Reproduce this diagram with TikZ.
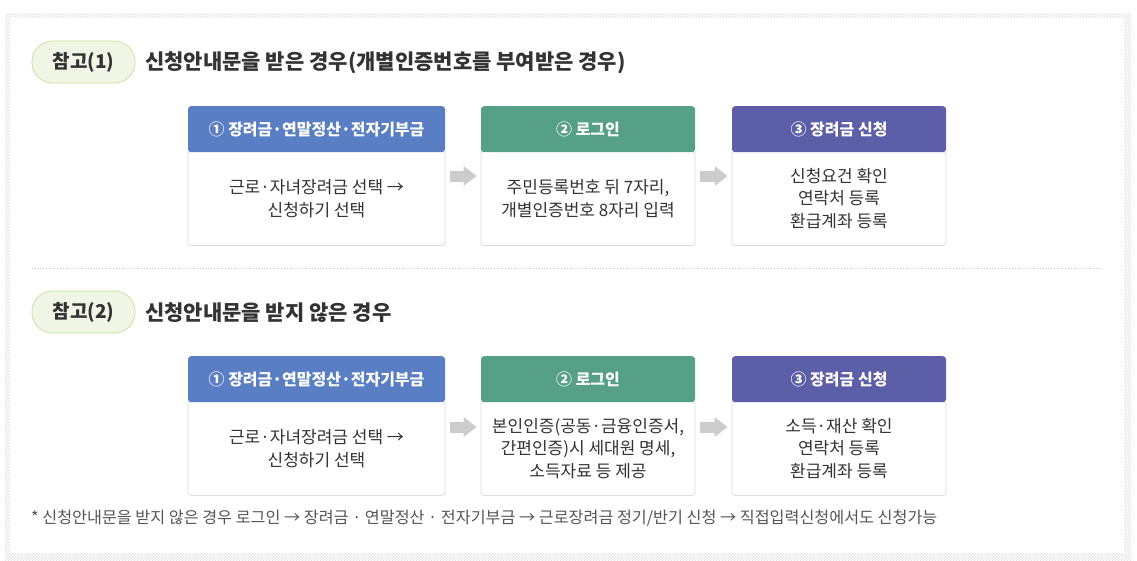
\documentclass[tikz,border=0pt]{standalone}
\usepackage{fontspec}
\setmainfont{Noto Sans CJK KR}
\usetikzlibrary{patterns,arrows.meta,calc}
\definecolor{hdrblue}{HTML}{5A7EC4}
\definecolor{hdrgreen}{HTML}{56A088}
\definecolor{hdrpurple}{HTML}{5D5EA8}
\definecolor{pillfill}{HTML}{EFF6E5}
\definecolor{pillline}{HTML}{CBE39E}
\definecolor{boxline}{HTML}{DCDCDC}
\definecolor{txt}{HTML}{333333}
\definecolor{notetxt}{HTML}{555555}
\definecolor{arrowgray}{HTML}{CCCCCC}
\definecolor{hatch}{HTML}{DEDEDE}
\definecolor{sepline}{HTML}{C8C8C8}
\tikzset{
  pill/.style={draw=pillline, fill=pillfill, line width=0.8pt, rounded corners=20.5pt,
    minimum width=103pt, minimum height=42pt, inner sep=0pt, text=txt,
    font=\fontsize{19}{22}\selectfont\bfseries},
  title/.style={anchor=west, inner sep=0pt, text=txt, font=\fontsize{21}{24}\selectfont\bfseries},
  hdr/.style={fill=#1, rounded corners=3pt, minimum height=46pt, inner sep=0pt, text=white,
    font=\fontsize{16}{19}\selectfont\bfseries, anchor=north},
  body/.style={draw=boxline, fill=white, line width=0.8pt, rounded corners=3pt, minimum height=94pt,
    inner sep=0pt, text=txt, align=center, font=\fontsize{17}{22.5}\selectfont, anchor=north},
  flow/.style={draw=arrowgray, line width=11pt, -{Triangle[length=13pt,width=19pt]},
    shorten <=5pt, shorten >=4pt},
  note/.style={anchor=west, inner sep=0pt, text=notetxt, font=\fontsize{16.2}{18}\selectfont}
}
\begin{document}
\begin{tikzpicture}[x=1pt,y=-1pt]
\useasboundingbox (0,0) rectangle (1137,560);
\fill[white] (0,0) rectangle (1137,560);
\fill[pattern=north east lines, pattern color=hatch, even odd rule]
  (5,13) rectangle (1131,562) (10,18) rectangle (1124,553);

% ---- section 1 ----
\node[pill] (p1) at (83.5,62) {참고(1)};
\node[title] (t1) at (145,63) {신청안내문을 받은 경우(개별인증번호를 부여받은 경우)};

\node[body, minimum width=257pt] (b11) at (316.5,151) {근로·자녀장려금 선택 →\\신청하기 선택};
\node[hdr=hdrblue, minimum width=257pt] (h11) at (316.5,106) {① 장려금·연말정산·전자기부금};
\node[body, minimum width=214pt] (b12) at (588,151) {주민등록번호 뒤 7자리,\\개별인증번호 8자리 입력};
\node[hdr=hdrgreen, minimum width=214pt] (h12) at (588,106) {② 로그인};
\node[body, minimum width=214pt] (b13) at (839,151) {신청요건 확인\\연락처 등록\\환급계좌 등록};
\node[hdr=hdrpurple, minimum width=214pt] (h13) at (839,106) {③ 장려금 신청};

\path (b11.north east) ++(0,25) coordinate (a11);
\path (b12.north east) ++(0,25) coordinate (a12);
\draw[flow] (a11) -- (a11 -| b12.west);
\draw[flow] (a12) -- (a12 -| b13.west);

\draw[sepline, dotted, line width=0.8pt] (32,268) -- (1101,268);

% ---- section 2 ----
\node[pill] (p2) at (83.5,312) {참고(2)};
\node[title] (t2) at (145,313) {신청안내문을 받지 않은 경우};

\node[body, minimum width=257pt] (b21) at (316.5,401) {근로·자녀장려금 선택 →\\신청하기 선택};
\node[hdr=hdrblue, minimum width=257pt] (h21) at (316.5,356) {① 장려금·연말정산·전자기부금};
\node[body, minimum width=214pt] (b22) at (588,401) {본인인증(공동·금융인증서,\\간편인증)시 세대원 명세,\\소득자료 등 제공};
\node[hdr=hdrgreen, minimum width=214pt] (h22) at (588,356) {② 로그인};
\node[body, minimum width=214pt] (b23) at (839,401) {소득·재산 확인\\연락처 등록\\환급계좌 등록};
\node[hdr=hdrpurple, minimum width=214pt] (h23) at (839,356) {③ 장려금 신청};

\path (b21.north east) ++(0,26) coordinate (a21);
\path (b22.north east) ++(0,26) coordinate (a22);
\draw[flow] (a21) -- (a21 -| b22.west);
\draw[flow] (a22) -- (a22 -| b23.west);

\node[note] (n1) at (31,518) {* 신청안내문을 받지 않은 경우 로그인 → 장려금 · 연말정산 · 전자기부금 → 근로장려금 정기/반기 신청 → 직접입력신청에서도 신청가능};
\end{tikzpicture}
\end{document}
